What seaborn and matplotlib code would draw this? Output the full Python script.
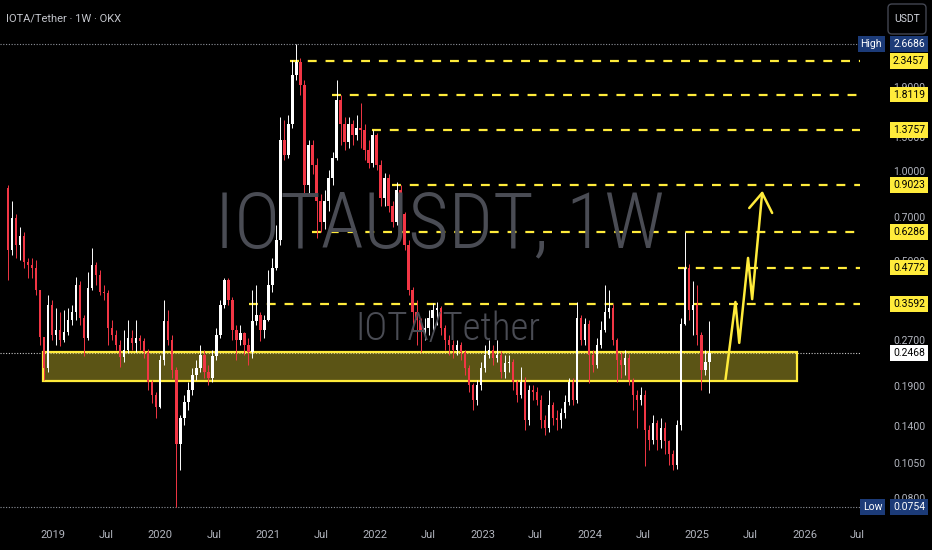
import numpy as np
import pandas as pd
import matplotlib
matplotlib.use("Agg")
import matplotlib.pyplot as plt
import matplotlib.dates as mdates
from matplotlib import font_manager
from matplotlib.patches import Rectangle, FancyBboxPatch
from matplotlib.ticker import FuncFormatter, NullLocator
from matplotlib.transforms import blended_transform_factory, IdentityTransform
import seaborn as sns

# IOTA/USDT, 2-weekly candles
first_open = 0.88
close = [
    0.546, 0.70, 0.57, 0.61, 0.50, 0.487, 0.475, 0.402, 0.28, 0.22,
    0.358, 0.284, 0.295, 0.273, 0.29, 0.319, 0.34, 0.418, 0.324, 0.277,
    0.408, 0.487, 0.451, 0.396, 0.393, 0.30, 0.284, 0.263, 0.24, 0.253,
    0.277, 0.266, 0.277, 0.27, 0.249, 0.197, 0.179, 0.163, 0.234, 0.315,
    0.273, 0.217, 0.122, 0.15, 0.169, 0.186, 0.209, 0.22, 0.243, 0.213,
    0.203, 0.241, 0.284, 0.358, 0.434, 0.372, 0.295, 0.273, 0.288, 0.263,
    0.249, 0.315, 0.331, 0.295, 0.319, 0.418, 0.475, 0.59, 1.28, 1.14,
    1.44, 2.11, 2.32, 1.95, 0.90, 1.23, 1.05, 0.80, 0.68, 0.80,
    0.955, 1.11, 1.74, 1.44, 1.26, 1.44, 1.33, 1.40, 1.38, 1.18,
    1.07, 1.33, 1.05, 0.815, 0.955, 0.77, 0.68, 0.87, 0.72, 0.57,
    0.402, 0.34, 0.319, 0.295, 0.30, 0.324, 0.344, 0.35, 0.30, 0.273,
    0.263, 0.253, 0.263, 0.249, 0.22, 0.193, 0.172, 0.193, 0.22, 0.243,
    0.253, 0.237, 0.243, 0.213, 0.228, 0.23, 0.197, 0.179, 0.197, 0.147,
    0.186, 0.183, 0.172, 0.147, 0.138, 0.166, 0.15, 0.147, 0.155, 0.169,
    0.197, 0.172, 0.324, 0.273, 0.31, 0.243, 0.225, 0.263, 0.295, 0.34,
    0.35, 0.273, 0.234, 0.225, 0.237, 0.20, 0.179, 0.172, 0.179, 0.136,
    0.126, 0.144, 0.126, 0.138, 0.125, 0.113, 0.104, 0.142, 0.31, 0.475,
    0.344, 0.358, 0.284, 0.217, 0.23, 0.2468,
]
high = [
    0.90, 0.80, 0.72, 0.65, 0.63, 0.514, 0.514, 0.506, 0.402, 0.28,
    0.387, 0.372, 0.35, 0.34, 0.344, 0.35, 0.358, 0.444, 0.43, 0.33,
    0.46, 0.555, 0.50, 0.468, 0.418, 0.402, 0.319, 0.295, 0.273, 0.295,
    0.319, 0.295, 0.319, 0.284, 0.277, 0.255, 0.20, 0.183, 0.243, 0.372,
    0.344, 0.284, 0.222, 0.153, 0.179, 0.197, 0.22, 0.234, 0.263, 0.253,
    0.225, 0.253, 0.30, 0.372, 0.44, 0.44, 0.38, 0.307, 0.307, 0.29,
    0.277, 0.402, 0.418, 0.34, 0.331, 0.468, 0.514, 0.66, 1.52, 1.49,
    1.55, 2.36, 2.6686, 2.40, 2.03, 1.28, 1.28, 1.11, 0.84, 0.87,
    1.01, 1.16, 2.03, 1.80, 1.52, 1.52, 1.49, 1.55, 1.70, 1.44,
    1.28, 1.38, 1.35, 1.09, 0.99, 0.98, 0.80, 0.925, 0.90, 0.73,
    0.59, 0.41, 0.372, 0.324, 0.324, 0.344, 0.364, 0.366, 0.355, 0.307,
    0.284, 0.273, 0.273, 0.268, 0.253, 0.225, 0.196, 0.20, 0.23, 0.263,
    0.273, 0.263, 0.273, 0.25, 0.243, 0.243, 0.235, 0.20, 0.222, 0.205,
    0.193, 0.193, 0.19, 0.179, 0.153, 0.186, 0.169, 0.159, 0.162, 0.179,
    0.203, 0.203, 0.366, 0.331, 0.324, 0.318, 0.253, 0.277, 0.315, 0.418,
    0.402, 0.36, 0.277, 0.249, 0.253, 0.245, 0.203, 0.186, 0.19, 0.185,
    0.142, 0.153, 0.147, 0.15, 0.145, 0.126, 0.117, 0.147, 0.324, 0.63,
    0.49, 0.43, 0.418, 0.29, 0.253, 0.315,
]
low = [
    0.434, 0.526, 0.514, 0.506, 0.475, 0.44, 0.44, 0.387, 0.263, 0.20,
    0.213, 0.273, 0.263, 0.26, 0.268, 0.284, 0.307, 0.319, 0.307, 0.241,
    0.273, 0.402, 0.418, 0.387, 0.372, 0.263, 0.273, 0.253, 0.222, 0.23,
    0.247, 0.253, 0.249, 0.253, 0.237, 0.186, 0.168, 0.15, 0.162, 0.225,
    0.263, 0.203, 0.0754, 0.100, 0.142, 0.159, 0.179, 0.20, 0.213, 0.203,
    0.193, 0.197, 0.234, 0.277, 0.35, 0.358, 0.273, 0.234, 0.263, 0.243,
    0.225, 0.237, 0.307, 0.27, 0.277, 0.315, 0.396, 0.468, 0.57, 1.09,
    1.11, 1.40, 2.03, 1.81, 0.84, 0.84, 0.98, 0.60, 0.63, 0.64,
    0.74, 0.90, 1.09, 1.23, 1.18, 1.20, 1.23, 1.28, 1.20, 1.09,
    1.03, 1.04, 1.01, 0.77, 0.77, 0.73, 0.65, 0.66, 0.68, 0.546,
    0.387, 0.295, 0.263, 0.249, 0.273, 0.284, 0.295, 0.307, 0.284, 0.253,
    0.243, 0.237, 0.243, 0.234, 0.209, 0.183, 0.159, 0.166, 0.186, 0.213,
    0.237, 0.225, 0.23, 0.203, 0.203, 0.213, 0.186, 0.169, 0.174, 0.136,
    0.142, 0.172, 0.166, 0.138, 0.131, 0.134, 0.142, 0.136, 0.138, 0.15,
    0.166, 0.166, 0.168, 0.263, 0.263, 0.196, 0.213, 0.22, 0.257, 0.29,
    0.324, 0.263, 0.197, 0.203, 0.209, 0.193, 0.159, 0.138, 0.166, 0.103,
    0.117, 0.122, 0.117, 0.119, 0.113, 0.104, 0.100, 0.101, 0.136, 0.307,
    0.319, 0.284, 0.263, 0.186, 0.209, 0.181,
]
dates = pd.date_range("2018-07-31", "2025-02-11", periods=len(close))

# support / resistance levels and where each dashed line starts
levels = [2.3457, 1.8119, 1.3757, 0.9023, 0.6286, 0.4772, 0.3592]
level_starts = ["2021-03-17", "2021-08-07", "2021-12-21", "2022-02-27",
                "2021-06-01", "2024-10-28", "2020-10-29"]

zone_start, zone_end = "2018-11-26", "2025-12-07"
zone_low, zone_high = 0.199, 0.248

arrow_dates = ["2025-04-07", "2025-05-11", "2025-05-24", "2025-06-23", "2025-07-07", "2025-08-10"]
arrow_prices = [0.2005, 0.366, 0.267, 0.514, 0.374, 0.848]
head_dates = ["2025-06-27", "2025-08-10", "2025-09-13"]
head_prices = [0.755, 0.848, 0.727]

axis_prices = [1.9, 1.3, 1.0, 0.7, 0.5, 0.27, 0.19, 0.14, 0.105, 0.08]
high_value, low_value, last_price = 2.6686, 0.0754, 0.2468

# colours
BG = "#000000"
RED = "#f23645"
UP = "#ffffff"
YEL = "#ffeb3b"
TXT = "#b2b5be"
WM = "#4a4c54"
TAG_BLUE = "#1c3b78"

sns.set_theme(style="dark", rc={"axes.facecolor": BG, "figure.facecolor": BG,
                                "savefig.facecolor": BG})


def has_font(name):
    try:
        font_manager.findfont(font_manager.FontProperties(family=name), fallback_to_default=False)
        return True
    except Exception:
        return False


narrow = None
for name in ["Roboto Condensed", "Liberation Sans Narrow", "Open Sans Condensed"]:
    if has_font(name):
        narrow = font_manager.FontProperties(family=name, weight="light")
        break
if narrow is None:
    p = font_manager.FontProperties(family="DejaVu Sans", stretch="condensed")
    if "Condensed" in font_manager.findfont(p):
        narrow = p
    else:
        narrow = font_manager.FontProperties(family="Roboto" if has_font("Roboto") else "DejaVu Sans",
                                             weight="light")

ui_font = "Roboto" if has_font("Roboto") else "DejaVu Sans"
plt.rcParams["font.family"] = [ui_font, "DejaVu Sans"]

fig = plt.figure(figsize=(9.32, 5.5), dpi=100)
ax = fig.add_axes([0, 32 / 550, 860 / 932, 518 / 550])
ax.set_facecolor(BG)
ax.set_yscale("log")
ax.set_ylim(0.0692, 3.755)
ax.set_xlim(mdates.date2num(pd.Timestamp("2018-07-04")), mdates.date2num(pd.Timestamp("2026-07-09")))
ax.grid(False)
for s in ax.spines.values():
    s.set_visible(False)

# watermark
wm1 = fig.text(440 / 932, (550 - 247) / 550, "IOTAUSDT, 1W", ha="center", va="baseline",
               color=WM, fontproperties=narrow, fontsize=60, zorder=0)
wm2 = fig.text(448 / 932, (550 - 340) / 550, "IOTA/Tether", ha="center", va="baseline",
               color=WM, fontproperties=narrow, fontsize=28, zorder=0)
fig.canvas.draw()
for t, target_w, target_cap in ((wm1, 450, 79), (wm2, 185, 38)):
    w = t.get_window_extent().width
    size_w = t.get_fontsize() * target_w / w
    size_h = target_cap / 0.72 * 72 / 100
    t.set_fontsize(min(size_w, size_h))

x = mdates.date2num(dates)
c = np.array(close)
o = np.r_[first_open, c[:-1]]
hi = np.array(high)
lo = np.array(low)

# dotted reference lines
xmin, xmax = ax.get_xlim()
ax.hlines([high_value, low_value], xmin, xmax, colors="#8f929b", linestyles=(0, (1, 1.5)), lw=0.8, zorder=1)
ax.hlines(last_price, xmin, xmax, colors="#c8c8c8", linestyles=(0, (1, 1.5)), lw=0.8, zorder=1)

# dashed yellow levels
for lv, st in zip(levels, level_starts):
    ax.hlines(lv, mdates.date2num(pd.Timestamp(st)), xmax, colors=YEL, lw=1.6,
              linestyles=(0, (4, 4)), zorder=2)

# support zone
zx0 = mdates.date2num(pd.Timestamp(zone_start))
zx1 = mdates.date2num(pd.Timestamp(zone_end))
ax.add_patch(Rectangle((zx0, zone_low), zx1 - zx0, zone_high - zone_low,
                       facecolor=(1.0, 0.92, 0.23, 0.36), edgecolor=YEL, lw=1.6, zorder=3))

# candles
for is_up, col in ((True, UP), (False, RED)):
    m = (c >= o) if is_up else (c < o)
    ax.vlines(x[m], lo[m], hi[m], color=col, lw=0.7, zorder=4)
    ax.bar(x[m], np.abs(c - o)[m], bottom=np.minimum(o, c)[m], width=8.5,
           color=col, lw=0, zorder=4)

# projected path
sns.lineplot(x=mdates.date2num(pd.to_datetime(arrow_dates)), y=arrow_prices, sort=False,
             estimator=None, color=YEL, lw=1.8, ax=ax, zorder=5)
sns.lineplot(x=mdates.date2num(pd.to_datetime(head_dates)), y=head_prices, sort=False,
             estimator=None, color=YEL, lw=1.8, ax=ax, zorder=5)
ax.set_xlabel("")
ax.set_ylabel("")

# axes ticks
ax.yaxis.set_major_locator(NullLocator())
ax.yaxis.set_minor_locator(NullLocator())
ax.xaxis.set_major_locator(mdates.MonthLocator(bymonth=[1, 7]))
ax.xaxis.set_major_formatter(FuncFormatter(
    lambda v, pos: str(mdates.num2date(v).year) if mdates.num2date(v).month == 1 else "Jul"))
ax.tick_params(axis="x", length=0, pad=9, labelsize=8, labelcolor=TXT)

# price scale on the right
trans = blended_transform_factory(fig.transFigure, ax.transData)
for p in axis_prices:
    ax.text(925 / 932, p, f"{p:.4f}", transform=trans, ha="right", va="center",
            fontsize=7.5, color=TXT, zorder=6, clip_on=False)


def tag(price, label, fc, tc, xr=925):
    ax.text(xr / 932, price, label, transform=trans, ha="right", va="center", fontsize=7.5,
            color=tc, zorder=10, clip_on=False,
            bbox=dict(boxstyle="square,pad=0.28", fc=fc, ec="none"))


for lv in levels:
    tag(lv, f"{lv:.4f}", YEL, "#000000")
tag(last_price, f"{last_price:.4f}", "#ffffff", "#000000")
tag(high_value, f"{high_value:.4f}", TAG_BLUE, "#ffffff")
tag(high_value, "High", TAG_BLUE, "#ffffff", xr=882)
tag(low_value, f"{low_value:.4f}", TAG_BLUE, "#ffffff")
tag(low_value, "Low", TAG_BLUE, "#ffffff", xr=882)

# header and currency button
fig.text(6 / 932, 1 - 19 / 550, "IOTA/Tether · 1W · OKX", ha="left", va="center",
         fontsize=8, color="#c4c6cc")
fig.add_artist(FancyBboxPatch((888, 550 - 34), 38, 30, boxstyle="round,pad=0,rounding_size=4",
                              transform=IdentityTransform(), fc=BG, ec="#434651", lw=1))
fig.text(907 / 932, 1 - 19 / 550, "USDT", ha="center", va="center", fontsize=7.5, color="#d1d4dc")

fig.savefig("out.png", dpi=100, facecolor=BG)
